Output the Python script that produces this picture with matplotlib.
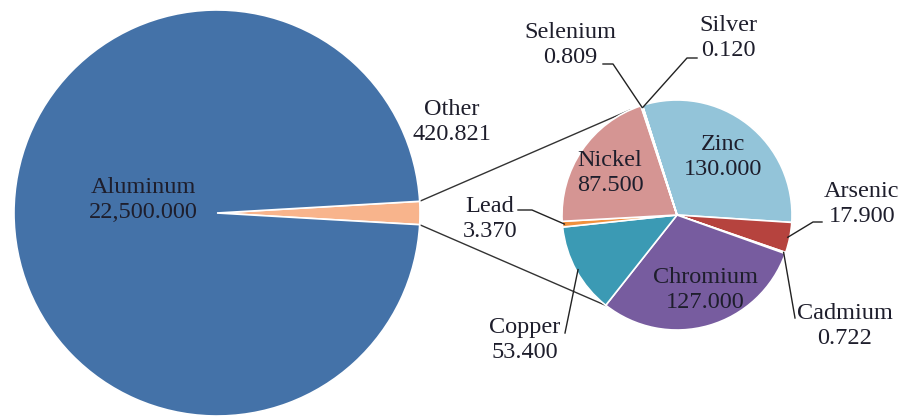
import numpy as np
import matplotlib
matplotlib.use("Agg")
import matplotlib.pyplot as plt

# ---------------- data ----------------
main_labels = ["Aluminum"]
main_values = [22500.000]

sub_labels = ["Zinc", "Arsenic", "Cadmium", "Chromium", "Copper",
              "Lead", "Nickel", "Selenium", "Silver"]
sub_values = [130.000, 17.900, 0.722, 127.000, 53.400,
              3.370, 87.500, 0.809, 0.120]
other_label = "Other"

# ---------------- style ----------------
main_color = "#4472A8"
other_color = "#F8B48C"
sub_colors = ["#93C4D9", "#B6433E", "#EBC3BC", "#775C9F", "#3B9AB4",
              "#F0913E", "#D59593", "#C3D69B", "#B3A2C7"]
text_color = "#1e1e2c"
FONT = ["Liberation Serif", "DejaVu Serif"]
FS = 17.5

W, H = 902, 417
fig = plt.figure(figsize=(W / 100, H / 100), dpi=100)
ax = fig.add_axes([0, 0, 1, 1])


def Y(py):
    return H - py


big_c = (217, Y(213))
big_r = 203
small_c = (677, Y(215))
small_r = 115

other_total = sum(sub_values)
total = other_total + sum(main_values)
half = 360 * other_total / total / 2

wp = dict(edgecolor="white", linewidth=1.2)
ax.pie([other_total] + main_values, center=big_c, radius=big_r,
       startangle=-half, counterclock=True,
       colors=[other_color, main_color], wedgeprops=wp)

start_small = 107.5
ax.pie(sub_values, center=small_c, radius=small_r,
       startangle=start_small, counterclock=False,
       colors=sub_colors, wedgeprops=wp)

ax.set_xlim(0, W)
ax.set_ylim(0, H)
ax.set_aspect("equal")
ax.axis("off")


def pt(center, r, ang):
    a = np.deg2rad(ang)
    return center[0] + r * np.cos(a), center[1] + r * np.sin(a)


# connector lines between the pies
for a_big, a_small in [(half, 114), (-half, -128)]:
    p0 = pt(big_c, big_r, a_big)
    p1 = pt(small_c, small_r, a_small)
    ax.plot([p0[0], p1[0]], [p0[1], p1[1]], color="#333333", lw=1.0, zorder=0.5)

# mid angles of the sub wedges
cum = np.cumsum([0] + sub_values)
mids = {lab: start_small - 360 * (cum[i] + sub_values[i] / 2) / other_total
        for i, lab in enumerate(sub_labels)}


def fmt(v):
    return f"{v:,.3f}"


def label(x, y, name, value):
    ax.text(x, Y(y), f"{name}\n{fmt(value)}", ha="center", va="center",
            family=FONT, fontsize=FS, color=text_color, linespacing=1.25,
            zorder=5)


# inside labels
label(143, 200, main_labels[0], main_values[0])
label(452, 122, other_label, other_total)
vals = dict(zip(sub_labels, sub_values))
label(723, 157, "Zinc", vals["Zinc"])
label(610, 173, "Nickel", vals["Nickel"])
label(705, 290, "Chromium", vals["Chromium"])

# outside labels with leader lines: text pos, elbow points (pixel coords)
outside = {
    "Selenium": ((570, 45), [(603, 64), (613, 64)]),
    "Silver": ((728, 38), [(697, 58), (687, 58)]),
    "Arsenic": ((862, 204), [(822, 222), (813, 222)]),
    "Cadmium": ((845, 326), [(795, 318)]),
    "Lead": ((490, 219), [(518, 210), (532, 210)]),
    "Copper": ((525, 340), [(565, 333)]),
}
for name, ((tx, ty), elbows) in outside.items():
    label(tx, ty, name, vals[name])
    rim = pt(small_c, small_r - 2, mids[name])
    xs = [e[0] for e in elbows] + [rim[0]]
    ys = [Y(e[1]) for e in elbows] + [rim[1]]
    ax.plot(xs, ys, color="#222222", lw=1.0, zorder=4)

fig.savefig("out.png", dpi=100)
